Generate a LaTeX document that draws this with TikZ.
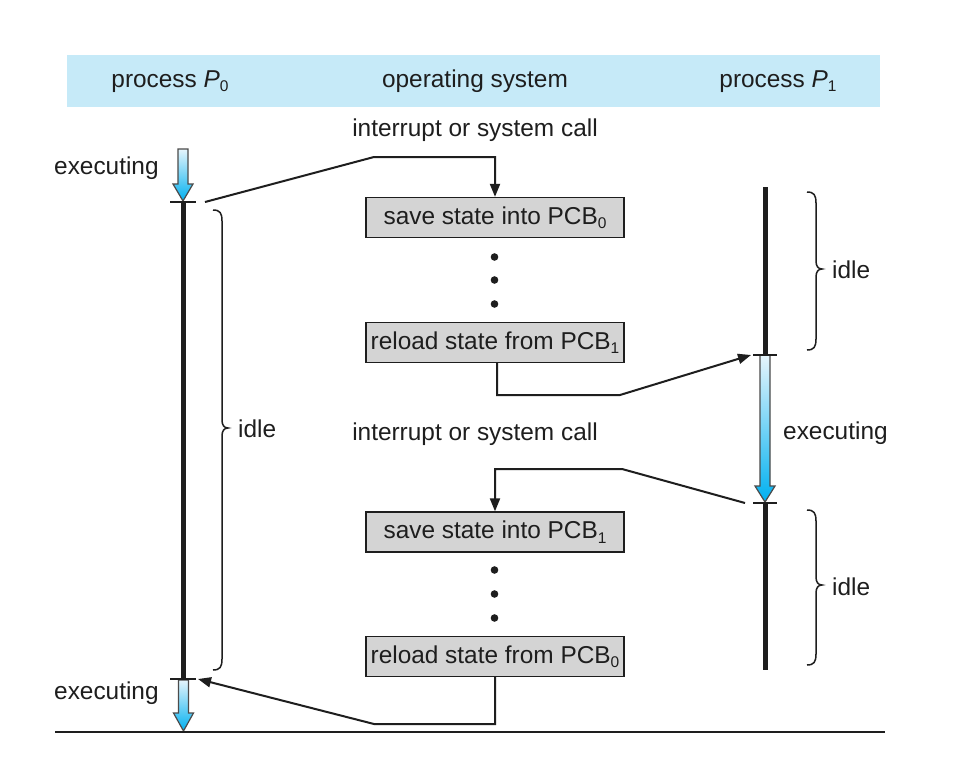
\documentclass[tikz,border=0pt]{standalone}
\usepackage{fontspec}
\setmainfont{Liberation Sans}
\usetikzlibrary{arrows.meta}
\definecolor{band}{RGB}{198,234,248}
\definecolor{boxgray}{RGB}{212,212,212}
\definecolor{arrtop}{RGB}{230,245,252}
\definecolor{arrbot}{RGB}{0,176,240}
\definecolor{ink}{RGB}{30,30,30}
\newcommand\subx[1]{\raisebox{-4.5pt}{\fontsize{15.5}{15.5}\selectfont #1}}
\tikzset{
  lbl/.style={font=\fontsize{24.4}{29}\selectfont, text=ink, inner sep=0pt},
  osbox/.style={draw=ink, line width=1.3pt, fill=boxgray, minimum width=258pt, minimum height=40pt, inner sep=0pt, font=\fontsize{24.4}{29}\selectfont, text=ink},
  conn/.style={draw=ink, line width=2pt},
  connarrow/.style={conn, -{Triangle[length=13pt,width=10pt]}},
  timeline/.style={draw=ink, line width=5pt},
  tickmark/.style={draw=ink, line width=1.5pt},
  bracestyle/.style={draw=ink, line width=1.5pt},
  execarrow/.style={draw=ink!80, line width=1.2pt, top color=arrtop, bottom color=arrbot},
}
% #1 x, #2 top, #3 head start, #4 tip
\newcommand\myexecarrow[4]{%
  \path[execarrow] ({#1-5},#2) -- ({#1+5},#2) -- ({#1+5},#3) -- ({#1+10},#3) -- (#1,#4) -- ({#1-10},#3) -- ({#1-5},#3) -- cycle;}
% #1 open x, #2 top y, #3 bottom y, #4 tip y
\newcommand\mybrace[4]{%
  \draw[bracestyle] (#1,#2) .. controls ({#1+7},#2) and ({#1+9},{#2+3}) .. ({#1+9},{#2+11})
    -- ({#1+9},{#4-8}) .. controls ({#1+9},{#4-3}) and ({#1+11},#4) .. ({#1+15},#4)
    .. controls ({#1+11},#4) and ({#1+9},{#4+3}) .. ({#1+9},{#4+8})
    -- ({#1+9},{#3-11}) .. controls ({#1+9},{#3-3}) and ({#1+7},#3) .. (#1,#3);}
\begin{document}
\begin{tikzpicture}[x=1pt,y=-1pt]
\path[use as bounding box, fill=white] (0,0) rectangle (956,784);
% header band
\fill[band] (67,55) rectangle (880,107);
\node[lbl] (hp0) at (170,81.5) {process \textit{P}\subx{0}};
\node[lbl] (hos) at (475,81.5) {operating system};
\node[lbl] (hp1) at (778,81.5) {process \textit{P}\subx{1}};
% labels
\node[lbl] (int1) at (475,130.5) {interrupt or system call};
\node[lbl] (int2) at (475,434.5) {interrupt or system call};
\node[lbl, anchor=west] (ex0a) at (54,168.5) {executing};
\node[lbl, anchor=west] (ex0b) at (54,693.5) {executing};
\node[lbl, anchor=west] (ex1) at (783,433.5) {executing};
\node[lbl, anchor=west] (idle0) at (238,428.5) {idle};
\node[lbl, anchor=west] (idle1a) at (832,269.5) {idle};
\node[lbl, anchor=west] (idle1b) at (832,586.5) {idle};
% boxes
\node[osbox] (b1) at (495,217.5) {save state into PCB\subx{0}};
\node[osbox] (b2) at (495,342.5) {reload state from PCB\subx{1}};
\node[osbox] (b3) at (495,532) {save state into PCB\subx{1}};
\node[osbox] (b4) at (495,656.5) {reload state from PCB\subx{0}};
% dots
\foreach \yy in {257,280,304,570,594,618} \fill[ink] (494.5,\yy) circle (3.8pt);
% P0 timeline
\draw[timeline] (183.5,202) -- (183.5,679);
\myexecarrow{183}{149}{184}{201}
\myexecarrow{183.5}{680}{713}{731}
\draw[tickmark] (170,202) -- (196,202);
\draw[tickmark] (170,679) -- (196,679);
% P1 timeline
\draw[timeline] (765,187) -- (765,355);
\draw[timeline] (765,503) -- (765,670);
\myexecarrow{765}{355}{486}{502}
\draw[tickmark] (753,355) -- (777,355);
\draw[tickmark] (753,503) -- (777,503);
% baseline
\draw[ink, line width=2pt] (55,732) -- (885,732);
% braces
\mybrace{213}{210}{670}{428}
\mybrace{807}{192}{350}{269}
\mybrace{807}{510}{665}{585}
% connector end points
\coordinate (c1s) at (205,202);
\coordinate (c1m) at (374,157);
\coordinate (c2m) at (620,395);
\coordinate (c2e) at (751,355);
\coordinate (c3s) at (745,503);
\coordinate (c3m) at (622,469);
\coordinate (c4m) at (374,724);
\coordinate (c4e) at (198,679);
% connectors
\draw[connarrow] (c1s) -- (c1m) -| (b1.north);
\draw[connarrow] ([xshift=2pt]b2.south) |- (c2m) -- (c2e);
\draw[connarrow] (c3s) -- (c3m) -| (b3.north);
\draw[connarrow] (b4.south) |- (c4m) -- (c4e);
\end{tikzpicture}
\end{document}
